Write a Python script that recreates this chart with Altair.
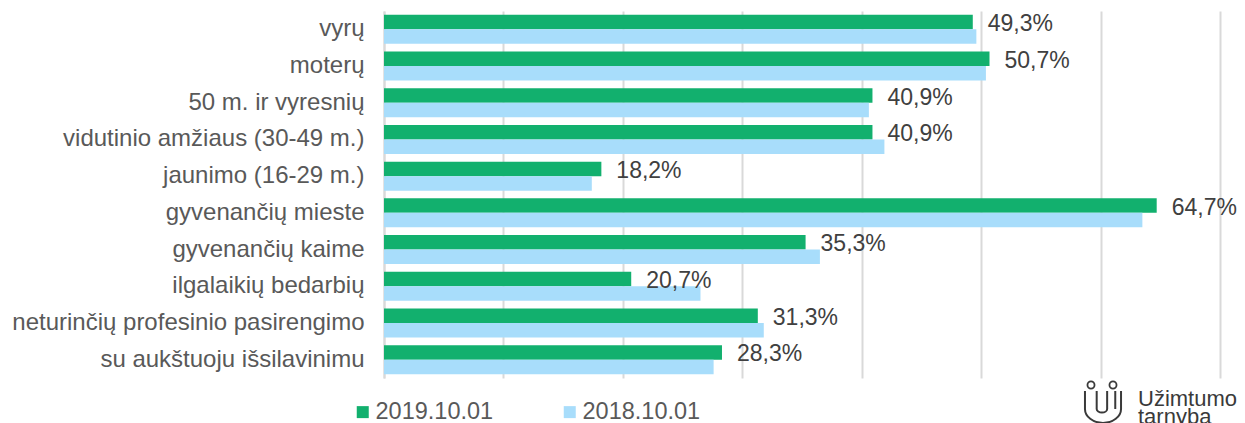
import altair as alt
import pandas as pd

categories = [
    "vyrų\u00a0",
    "moterų",
    "50 m. ir vyresnių",
    "vidutinio amžiaus (30-49 m.)",
    "jaunimo (16-29 m.)",
    "gyvenančių mieste",
    "gyvenančių kaime",
    "ilgalaikių bedarbių",
    "neturinčių profesinio pasirengimo",
    "su aukštuoju išsilavinimu\u00a0",
]
series_names = ["2019.10.01", "2018.10.01"]
values_2019 = [49.3, 50.7, 40.9, 40.9, 18.2, 64.7, 35.3, 20.7, 31.3, 28.3]
values_2018 = [49.6, 50.4, 40.6, 41.9, 17.4, 63.5, 36.5, 26.5, 31.8, 27.6]
colors = ["#12B06E", "#A8DDFB"]

rows = []
for c, v in zip(categories, values_2019):
    rows.append({"cat": c, "series": series_names[0], "value": v,
                 "label": f"{v:.1f}%".replace(".", ",")})
for c, v in zip(categories, values_2018):
    rows.append({"cat": c, "series": series_names[1], "value": v,
                 "label": f"{v:.1f}%".replace(".", ",")})
df = pd.DataFrame(rows)

FONT = "Liberation Sans"

y_enc = alt.Y(
    "cat:N", sort=categories,
    scale=alt.Scale(paddingInner=0.21, paddingOuter=0.105),
    axis=alt.Axis(title=None, labelFontSize=24, labelColor="#595959",
                  labelPadding=20, ticks=False, domain=True,
                  domainColor="#d9d9d9", domainWidth=2, labelLimit=400,
                  labelFont=FONT),
)
yoff_enc = alt.YOffset("series:N", sort=series_names,
                       scale=alt.Scale(paddingInner=0, paddingOuter=0))
x_enc = alt.X(
    "value:Q", scale=alt.Scale(domain=[0, 70], nice=False),
    axis=alt.Axis(title=None, labels=False, ticks=False, domain=False,
                  grid=True, gridColor="#d9d9d9", gridWidth=2,
                  values=[0, 10, 20, 30, 40, 50, 60, 70]),
)

base = alt.Chart(df)

bars = base.mark_bar().encode(
    y=y_enc, yOffset=yoff_enc, x=x_enc,
    color=alt.Color(
        "series:N", sort=series_names,
        scale=alt.Scale(domain=series_names, range=colors),
        legend=alt.Legend(
            title=None, orient="none", legendX=-33, legendY=389,
            direction="horizontal", symbolType="square", symbolSize=144,
            symbolStrokeWidth=0, labelFontSize=23.5, labelColor="#595959",
            labelFont=FONT, labelOffset=1, columnPadding=64, padding=0,
            labelLimit=300,
        ),
    ),
)

labels = base.transform_filter(
    alt.datum.series == series_names[0]
).mark_text(align="left", baseline="middle", dx=15, dy=2, fontSize=23,
            color="#404040", font=FONT).encode(
    y=y_enc, yOffset=yoff_enc, x="value:Q", text="label:N",
)

one = pd.DataFrame({"k": [1]})
logo_color = "#3a3a3a"
logo_t1 = alt.Chart(one).mark_text(
    text="Užimtumo", align="left", baseline="alphabetic", fontSize=22,
    font=FONT, color=logo_color,
).encode(x=alt.value(754), y=alt.value(395))
logo_t2 = alt.Chart(one).mark_text(
    text="tarnyba", align="left", baseline="alphabetic", fontSize=22,
    font=FONT, color=logo_color,
).encode(x=alt.value(754), y=alt.value(413))
circ1 = alt.Chart(one).mark_point(
    shape="circle", size=50, filled=False, strokeWidth=1.8, color=logo_color,
    opacity=1,
).encode(x=alt.value(707), y=alt.value(374))
circ2 = alt.Chart(one).mark_point(
    shape="circle", size=50, filled=False, strokeWidth=1.8, color=logo_color,
    opacity=1,
).encode(x=alt.value(729), y=alt.value(374))
icon_path = (
    "M -1 -1 L -1 0 A 1 0.77 0 0 0 1 0 L 1 -1 "
    "M -0.35 -1 L -0.35 0 A 0.29 0.2 0 0 0 0.23 0 L 0.23 -1 "
    "M 0.68 -1 L 0.68 0"
)
icon = alt.Chart(one).mark_point(
    shape=icon_path, size=1300, filled=False, strokeWidth=2,
    color=logo_color, opacity=1,
).encode(x=alt.value(719), y=alt.value(398))

chart = alt.layer(bars, labels, logo_t1, logo_t2, circ1, circ2, icon).properties(
    width=836, height=367,
    autosize=alt.AutoSizeParams(type="none"),
    padding={"left": 376, "top": 3, "right": 17, "bottom": 45},
).configure_view(stroke=None).configure_text(font=FONT)

chart.save("out.html", embed_options={"renderer": "svg", "actions": False})
